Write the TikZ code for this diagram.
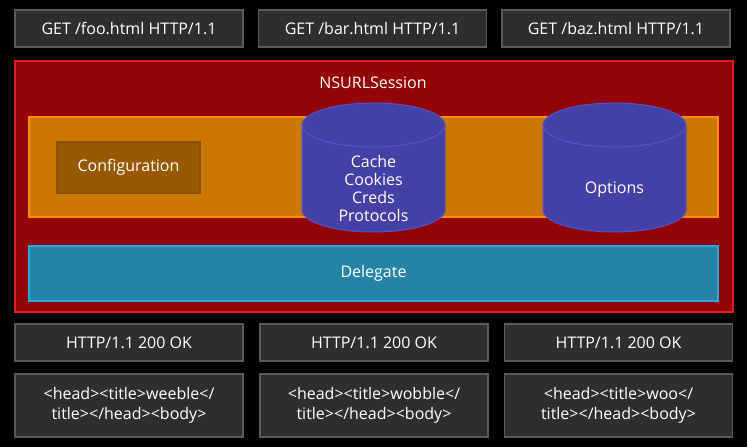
\documentclass[tikz,border=0pt]{standalone}
\usepackage{fontspec}
\setmainfont{Open Sans}

\definecolor{boxfill}{HTML}{2E2E2E}
\definecolor{boxline}{HTML}{5A5A5A}
\definecolor{sessfill}{HTML}{950404}
\definecolor{sessline}{HTML}{E01B1B}
\definecolor{bandfill}{HTML}{CC7700}
\definecolor{bandline}{HTML}{FF8C00}
\definecolor{conffill}{HTML}{9A5900}
\definecolor{confline}{HTML}{8F5000}
\definecolor{dbfill}{HTML}{4441A6}
\definecolor{dbline}{HTML}{5552CC}
\definecolor{delfill}{HTML}{2683A8}
\definecolor{delline}{HTML}{2AA8E0}

\begin{document}
\begin{tikzpicture}[x=1pt,y=-1pt,font=\fontsize{16}{20}\selectfont,text=white]
          \tikzstyle{message}=[draw=boxline,fill=boxfill,line width=1.5pt,minimum width=228pt,inner sep=0pt,align=center]
          \tikzstyle{layer}=[line width=1.5pt,inner sep=0pt,minimum width=689pt]
          \tikzstyle{store}=[draw=dbline,fill=dbfill,line width=1pt]
          \tikzstyle{dbend}=[x radius=71.5pt,y radius=22pt]

          \fill[black] (0,0) rectangle (747,447);
          \useasboundingbox (0,0) rectangle (747,447);

          % requests
          \node (req1) at (129,28.5) [message,minimum height=37pt] {GET /foo.html HTTP/1.1};
          \node (req2) at (372.5,28.5) [message,minimum height=37pt] {GET /bar.html HTTP/1.1};
          \node (req3) at (616,28.5) [message,minimum height=37pt] {GET /baz.html HTTP/1.1};

          % the session
          \node (session) at (374,186.5) [draw=sessline,fill=sessfill,line width=2.5pt,minimum width=718pt,minimum height=251pt] {};
          \node (sessionname) at (373,83) {NSURLSession};
          \node (band) at (373.5,167) [layer,draw=bandline,fill=bandfill,minimum height=100pt] {};
          \node (config) at (128.5,167.5) [draw=confline,fill=conffill,line width=1.5pt,minimum width=143pt,minimum height=51pt] {Configuration};

          % stores
          \filldraw[store] (302,125) -- (302,210) arc[start angle=180,end angle=360,dbend] -- (445,125) arc[start angle=0,end angle=180,dbend] -- cycle;
          \draw[dbline,line width=1pt] (302,125) arc[start angle=180,end angle=360,dbend];
          \node (cache) at (373.5,188.5) [align=center,font=\fontsize{16}{18}\selectfont] {Cache\\Cookies\\Creds\\Protocols};
          \filldraw[store] (543,125) -- (543,210) arc[start angle=180,end angle=360,dbend] -- (686,125) arc[start angle=0,end angle=180,dbend] -- cycle;
          \draw[dbline,line width=1pt] (543,125) arc[start angle=180,end angle=360,dbend];
          \node (options) at (614.5,189.5) {Options};

          \node (delegate) at (373.5,273.5) [layer,draw=delline,fill=delfill,minimum height=55pt] {Delegate};

          % responses
          \node (resp1) at (129,342.5) [message,minimum height=37pt] {HTTP/1.1 200 OK};
          \node (resp2) at (374,342.5) [message,minimum height=37pt] {HTTP/1.1 200 OK};
          \node (resp3) at (618.5,342.5) [message,minimum height=37pt] {HTTP/1.1 200 OK};
          \node (body1) at (129,405.5) [message,minimum height=63pt] {<head><title>weeble</\\title></head><body>};
          \node (body2) at (374,405.5) [message,minimum height=63pt] {<head><title>wobble</\\title></head><body>};
          \node (body3) at (618.5,405.5) [message,minimum height=63pt] {<head><title>woo</\\title></head><body>};
        \end{tikzpicture}
\end{document}
